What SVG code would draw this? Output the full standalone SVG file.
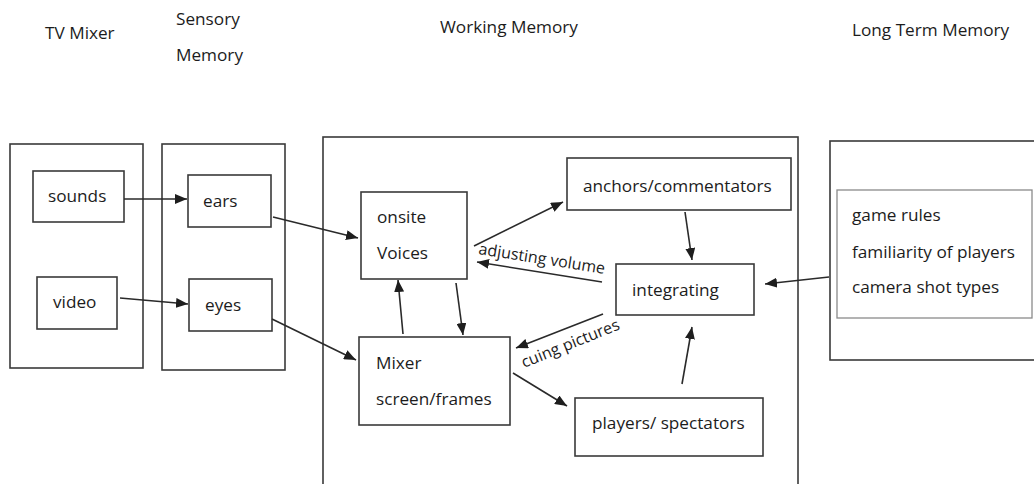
<svg xmlns="http://www.w3.org/2000/svg" width="1034" height="484" viewBox="0 0 1034 484">
  <style>
    .box { fill: #fff; stroke: #3a3a3a; stroke-width: 1.6; }
    .inner { fill: #fff; stroke: #8a8a8a; stroke-width: 1.3; }
    .lbl { font-family: "Open Sans", "Liberation Sans", sans-serif; font-size: 17.2px; fill: #1c1c1c; }
    .tag { font-size: 16px; }
    .edge { fill: none; stroke: #2a2a2a; stroke-width: 1.6; marker-end: url(#arrow); }
  </style>
  <defs>
    <marker id="arrow" markerUnits="userSpaceOnUse" viewBox="0 0 12 10" refX="12" refY="5" markerWidth="12" markerHeight="10" orient="auto">
      <path d="M0,0 L12,5 L0,10 z" fill="#1e1e1e"/>
    </marker>
  </defs>
  <rect width="1034" height="484" fill="#fff"/>

  <!-- column headings -->
  <g id="headings">
    <text class="lbl" x="45" y="39">TV Mixer</text>
    <text class="lbl" x="176" y="25">Sensory</text>
    <text class="lbl" x="176" y="61">Memory</text>
    <text class="lbl" x="440" y="33">Working Memory</text>
    <text class="lbl" x="852" y="36">Long Term Memory</text>
  </g>

  <!-- stage containers -->
  <g id="tv-mixer"><rect class="box" x="10" y="144" width="133" height="224"/></g>
  <g id="sensory-memory"><rect class="box" x="162" y="144" width="123" height="226"/></g>
  <g id="working-memory"><rect class="box" x="323" y="137" width="475" height="360"/></g>
  <g id="long-term-memory"><rect class="box" x="830" y="141" width="220" height="219"/></g>

  <!-- nodes -->
  <g id="sounds">
    <rect class="box" x="33" y="171" width="91" height="51"/>
    <text class="lbl" x="48" y="202">sounds</text>
  </g>
  <g id="video">
    <rect class="box" x="37" y="277" width="80" height="52"/>
    <text class="lbl" x="53" y="308">video</text>
  </g>
  <g id="ears">
    <rect class="box" x="188" y="175" width="83" height="52"/>
    <text class="lbl" x="203" y="207">ears</text>
  </g>
  <g id="eyes">
    <rect class="box" x="189" y="279" width="83" height="52"/>
    <text class="lbl" x="205" y="311">eyes</text>
  </g>
  <g id="onsite-voices">
    <rect class="box" x="361" y="192" width="106" height="87"/>
    <text class="lbl" x="377" y="223">onsite</text>
    <text class="lbl" x="377" y="259">Voices</text>
  </g>
  <g id="mixer-screen">
    <rect class="box" x="359" y="337" width="151" height="88"/>
    <text class="lbl" x="376" y="369">Mixer</text>
    <text class="lbl" x="376" y="405">screen/frames</text>
  </g>
  <g id="anchors">
    <rect class="box" x="567" y="158" width="224" height="52"/>
    <text class="lbl" x="583" y="192">anchors/commentators</text>
  </g>
  <g id="integrating">
    <rect class="box" x="616" y="264" width="138" height="51"/>
    <text class="lbl" x="632" y="296">integrating</text>
  </g>
  <g id="players">
    <rect class="box" x="575" y="398" width="188" height="58"/>
    <text class="lbl" x="592" y="429">players/ spectators</text>
  </g>
  <g id="knowledge">
    <rect class="inner" x="837" y="190" width="195" height="128"/>
    <text class="lbl" x="852" y="221">game rules</text>
    <text class="lbl" x="852" y="258">familiarity of players</text>
    <text class="lbl" x="852" y="293">camera shot types</text>
  </g>

  <!-- connectors -->
  <g id="connectors">
    <line class="edge" x1="124" y1="199" x2="187" y2="199"/>
    <line class="edge" x1="120" y1="298" x2="188" y2="304"/>
    <line class="edge" x1="273" y1="217" x2="358" y2="238"/>
    <line class="edge" x1="272" y1="319" x2="356" y2="360"/>
    <line class="edge" x1="474" y1="246" x2="563" y2="202"/>
    <line class="edge" x1="602" y1="282" x2="477" y2="262"/>
    <line class="edge" x1="403" y1="334" x2="398" y2="280"/>
    <line class="edge" x1="456" y1="283" x2="463" y2="335"/>
    <line class="edge" x1="603" y1="314" x2="516" y2="348"/>
    <line class="edge" x1="513" y1="373" x2="567" y2="406"/>
    <line class="edge" x1="685" y1="212" x2="692" y2="260"/>
    <line class="edge" x1="682" y1="384" x2="692" y2="327"/>
    <line class="edge" x1="829" y1="277" x2="765" y2="284"/>
    <text class="lbl tag" transform="translate(478,254) rotate(9)">adjusting volume</text>
    <text class="lbl tag" transform="translate(524,368) rotate(-22)">cuing pictures</text>
  </g>
</svg>
